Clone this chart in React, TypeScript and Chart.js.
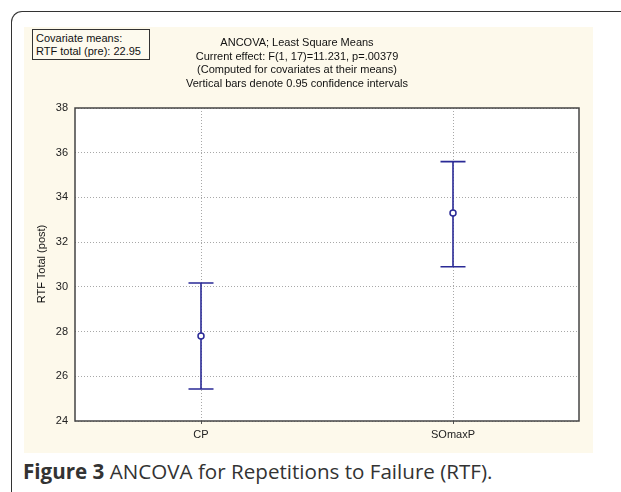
import React, { useEffect, useRef } from "react";
import { Chart, registerables } from "chart.js";

Chart.register(...registerables);

const categories = ["CP", "SOmaxP"];
const means = [27.8, 33.3];
const upper = [30.17, 35.6];
const lower = [25.43, 30.9];
const yTicks = [24, 26, 28, 30, 32, 34, 36, 38];
const titleLines = [
  "ANCOVA; Least Square Means",
  "Current effect: F(1, 17)=11.231, p=.00379",
  "(Computed for covariates at their means)",
  "Vertical bars denote 0.95 confidence intervals",
];
const boxLines = ["Covariate means:", "RTF total (pre): 22.95"];
const yTitle = "RTF Total (post)";

const NAVY = "#2a2a96";
const FONT = "'Liberation Sans', Arial, sans-serif";

const errorBarPlugin = {
  id: "errorBars",
  beforeDatasetsDraw(chart: any) {
    const { ctx, chartArea, scales } = chart;
    const xs = scales.x;
    const ys = scales.y;
    ctx.save();
    ctx.strokeStyle = "#555";
    ctx.lineWidth = 1;
    categories.forEach((_, i) => {
      const px = Math.round(xs.getPixelForValue(i + 1)) + 0.5;
      ctx.beginPath();
      ctx.moveTo(px, chartArea.bottom);
      ctx.lineTo(px, chartArea.bottom + 3);
      ctx.stroke();
    });
    ctx.strokeStyle = NAVY;
    ctx.lineWidth = 1.6;
    categories.forEach((_, i) => {
      const px = xs.getPixelForValue(i + 1);
      const pu = ys.getPixelForValue(upper[i]);
      const pl = ys.getPixelForValue(lower[i]);
      const hw = 12.5;
      ctx.beginPath();
      ctx.moveTo(px, pu);
      ctx.lineTo(px, pl);
      ctx.moveTo(px - hw, pu);
      ctx.lineTo(px + hw, pu);
      ctx.moveTo(px - hw, pl);
      ctx.lineTo(px + hw, pl);
      ctx.stroke();
    });
    ctx.restore();
  },
  afterDraw(chart: any) {
    const { ctx, chartArea } = chart;
    ctx.save();
    ctx.strokeStyle = "#444";
    ctx.lineWidth = 1.5;
    ctx.strokeRect(
      chartArea.left,
      chartArea.top,
      chartArea.right - chartArea.left,
      chartArea.bottom - chartArea.top
    );
    ctx.restore();
  },
};

const plotBgPlugin = {
  id: "plotBg",
  beforeDraw(chart: any) {
    const { ctx, chartArea } = chart;
    ctx.save();
    ctx.fillStyle = "#ffffff";
    ctx.fillRect(
      chartArea.left,
      chartArea.top,
      chartArea.right - chartArea.left,
      chartArea.bottom - chartArea.top
    );
    ctx.restore();
  },
};

export default function App() {
  const ref = useRef<HTMLCanvasElement>(null);
  useEffect(() => {
    document.body.style.margin = "0";
    const chart = new Chart(ref.current as HTMLCanvasElement, {
      type: "scatter",
      data: {
        datasets: [
          {
            data: means.map((m, i) => ({ x: i + 1, y: m })),
            pointRadius: 3,
            pointBackgroundColor: "#ffffff",
            pointBorderColor: NAVY,
            pointBorderWidth: 1.5,
          },
        ],
      },
      options: {
        animation: false,
        responsive: false,
        maintainAspectRatio: false,
        layout: { padding: { top: 81, right: 14, left: 0, bottom: 0 } },
        plugins: {
          legend: { display: false },
          tooltip: { enabled: false },
          title: { display: false },
        },
        scales: {
          x: {
            type: "linear",
            min: 0.5,
            max: 2.5,
            afterBuildTicks(scale: any) {
              scale.ticks = categories.map((_, i) => ({ value: i + 1 }));
            },
            afterFit(scale: any) {
              scale.height = 32;
            },
            ticks: {
              padding: 7,
              color: "#222",
              font: { family: FONT, size: 11 },
              callback: (v: any) => categories[Number(v) - 1] ?? "",
            },
            grid: { color: "#a8a8a8", drawTicks: false, lineWidth: 1 },
            border: { display: false, dash: [1, 2] },
          },
          y: {
            type: "linear",
            min: 24,
            max: 38,
            afterBuildTicks(scale: any) {
              scale.ticks = yTicks.map((v) => ({ value: v }));
            },
            afterFit(scale: any) {
              scale.width = 51;
            },
            ticks: {
              padding: 7,
              color: "#222",
              font: { family: FONT, size: 11 },
            },
            grid: { color: "#a8a8a8", drawTicks: false, lineWidth: 1 },
            border: { display: false, dash: [1, 2] },
          },
        },
      },
      plugins: [plotBgPlugin, errorBarPlugin],
    });
    return () => chart.destroy();
  }, []);

  return (
    <div
      style={{
        position: "fixed",
        left: 0,
        top: 0,
        width: 621,
        height: 492,
        background: "#ffffff",
        overflow: "hidden",
        fontFamily: FONT,
      }}
    >
      <div
        style={{
          position: "absolute",
          left: 11,
          top: 11,
          width: 640,
          height: 520,
          borderLeft: "1.5px solid #333",
          borderTop: "1.5px solid #333",
          borderTopLeftRadius: 11,
        }}
      />
      <div
        style={{
          position: "absolute",
          left: 24,
          top: 27,
          width: 569,
          height: 426,
          background: "#fdf9eb",
        }}
      >
        <canvas ref={ref} width={569} height={426} style={{ display: "block" }} />
        <div
          style={{
            position: "absolute",
            left: 8,
            top: 2,
            width: 118,
            height: 31,
            border: "1px solid #333",
            boxSizing: "border-box",
            padding: "2px 0 0 3px",
            fontSize: 11,
            lineHeight: "13px",
            color: "#111",
            background: "#fdfaee",
          }}
        >
          {boxLines.map((l, i) => (
            <div key={i}>{l}</div>
          ))}
        </div>
        <div
          style={{
            position: "absolute",
            left: 273 - 200,
            top: 9,
            width: 400,
            textAlign: "center",
            fontSize: 11,
            lineHeight: "13.5px",
            color: "#111",
          }}
        >
          {titleLines.map((l, i) => (
            <div key={i}>{l}</div>
          ))}
        </div>
        <div
          style={{
            position: "absolute",
            left: 17 - 60,
            top: 237 - 7,
            width: 120,
            height: 14,
            lineHeight: "14px",
            textAlign: "center",
            fontSize: 11,
            color: "#111",
            transform: "rotate(-90deg)",
          }}
        >
          {yTitle}
        </div>
      </div>
      <div
        style={{
          position: "absolute",
          left: 23,
          top: 458,
          fontFamily: "'Open Sans', sans-serif",
          fontSize: 20.6,
          lineHeight: "26px",
          color: "#333",
          whiteSpace: "nowrap",
        }}
      >
        <b>Figure 3</b> ANCOVA for Repetitions to Failure (RTF).
      </div>
    </div>
  );
}
